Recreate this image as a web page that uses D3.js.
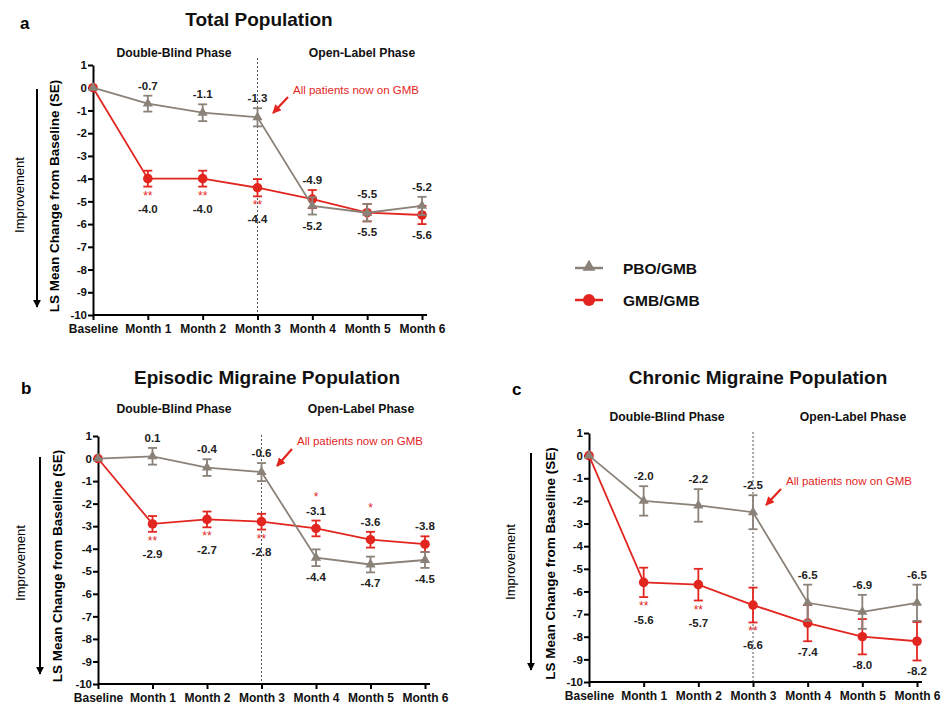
<!DOCTYPE html>
<html><head><meta charset="utf-8">
<script src="https://cdn.jsdelivr.net/npm/d3@7"></script>
<style>
body{margin:0;background:#fff;}
svg{display:block;font-family:"Liberation Sans",Arial,sans-serif;}
</style></head>
<body><svg id="chart" width="945" height="707"></svg>
<script>
const categories = ["Baseline","Month 1","Month 2","Month 3","Month 4","Month 5","Month 6"];
const yTicks = [1,0,-1,-2,-3,-4,-5,-6,-7,-8,-9,-10];
const seriesNames = ["PBO/GMB","GMB/GMB"];

// Panel a: Total Population
const totalPBO    = [0,-0.7,-1.1,-1.3,-5.2,-5.5,-5.2];
const totalPBOse  = [0,0.35,0.37,0.4,0.38,0.38,0.4];
const totalGMB    = [0,-4.0,-4.0,-4.4,-4.9,-5.5,-5.6];
const totalGMBse  = [0,0.35,0.35,0.38,0.4,0.38,0.4];
const totalSig    = ["","**","**","**","","",""];

// Panel b: Episodic Migraine Population
const episodicPBO   = [0,0.1,-0.4,-0.6,-4.4,-4.7,-4.5];
const episodicPBOse = [0,0.37,0.37,0.4,0.37,0.35,0.35];
const episodicGMB   = [0,-2.9,-2.7,-2.8,-3.1,-3.6,-3.8];
const episodicGMBse = [0,0.35,0.35,0.35,0.35,0.35,0.35];
const episodicSig   = ["","**","**","**","*","*",""];

// Panel c: Chronic Migraine Population
const chronicPBO   = [0,-2.0,-2.2,-2.5,-6.5,-6.9,-6.5];
const chronicPBOse = [0,0.65,0.72,0.75,0.8,0.75,0.8];
const chronicGMB   = [0,-5.6,-5.7,-6.6,-7.4,-8.0,-8.2];
const chronicGMBse = [0,0.65,0.7,0.77,0.8,0.78,0.85];
const chronicSig   = ["","**","**","**","","",""];

const GREY = "#8a8178", RED = "#e2261f";
const svg = d3.select("#chart");
const defs = svg.append("defs");
function marker(id, color){
  defs.append("marker").attr("id",id).attr("viewBox","0 0 10 10").attr("refX",9).attr("refY",5)
    .attr("markerWidth",4).attr("markerHeight",4).attr("orient","auto")
    .append("path").attr("d","M0,0 L10,5 L0,10 z").attr("fill",color);
}
marker("arrBlack","#000"); marker("arrRed",RED);

function fmt(v){ return (v<0?"-":"") + Math.abs(v).toFixed(1); }

function drawPanel(cfg){
  const g = svg.append("g");
  const x = d3.scalePoint().domain(categories).range([cfg.x0,cfg.x6]);
  const y = d3.scaleLinear().domain([-10,1]).range([cfg.yBot,cfg.yTop]);

  g.append("text").attr("x",cfg.letter[0]).attr("y",cfg.letter[1]).attr("font-size",17).attr("font-weight","bold").text(cfg.letterText);
  g.append("text").attr("x",cfg.title[0]).attr("y",cfg.title[1]).attr("text-anchor","middle").attr("font-size",19).attr("font-weight","bold").attr("fill","#111").text(cfg.titleText);
  g.append("text").attr("x",cfg.db[0]).attr("y",cfg.db[1]).attr("text-anchor","middle").attr("font-size",12.2).attr("font-weight","bold").attr("fill","#111").text("Double-Blind Phase");
  g.append("text").attr("x",cfg.ol[0]).attr("y",cfg.ol[1]).attr("text-anchor","middle").attr("font-size",12.2).attr("font-weight","bold").attr("fill","#111").text("Open-Label Phase");

  g.append("line").attr("x1",x("Month 3")).attr("x2",x("Month 3")).attr("y1",cfg.dashTop).attr("y2",cfg.yBot)
    .attr("stroke","#555").attr("stroke-width",1).attr("stroke-dasharray","2,2");

  const ya = d3.axisLeft(y).tickValues(yTicks).tickSize(5).tickSizeOuter(0).tickFormat(d=>String(d));
  const yg = g.append("g").attr("transform",`translate(${cfg.x0},0)`).call(ya);
  const xa = d3.axisBottom(x).tickSize(5).tickSizeOuter(0);
  const xg = g.append("g").attr("transform",`translate(0,${cfg.yBot})`).call(xa);
  xg.select(".domain").attr("d",`M${cfg.x0},0H${cfg.x6+5}`);
  [yg,xg].forEach(a=>{
    a.select(".domain").attr("stroke","#000").attr("stroke-width",2);
    a.selectAll(".tick line").attr("stroke","#000").attr("stroke-width",2);
    a.selectAll(".tick text").attr("fill","#111").attr("font-weight","bold").attr("font-family","Liberation Sans, Arial, sans-serif");
  });
  yg.selectAll(".tick text").attr("font-size",11.5).attr("x",-6);
  xg.selectAll(".tick text").attr("font-size",12).attr("y",9);

  g.append("line").attr("x1",cfg.impX).attr("x2",cfg.impX).attr("y1",cfg.impY0).attr("y2",cfg.impY1)
    .attr("stroke","#000").attr("stroke-width",2).attr("marker-end","url(#arrBlack)");
  g.append("text").attr("transform",`translate(${cfg.impTextX},${cfg.impTextY}) rotate(-90)`).attr("text-anchor","middle")
    .attr("font-size",13).text("Improvement");
  g.append("text").attr("transform",`translate(${cfg.ylabX},${(cfg.yTop+cfg.yBot)/2+6}) rotate(-90)`).attr("text-anchor","middle")
    .attr("font-size",13.5).attr("font-weight","bold").text("LS Mean Change from Baseline (SE)");

  g.append("text").attr("x",cfg.note[0]).attr("y",cfg.note[1]).attr("font-size",11.5).attr("fill",RED).text("All patients now on GMB");
  g.append("line").attr("x1",cfg.arrow[0]).attr("y1",cfg.arrow[1]).attr("x2",cfg.arrow[2]).attr("y2",cfg.arrow[3])
    .attr("stroke",RED).attr("stroke-width",2.2).attr("marker-end","url(#arrRed)");

  const series = [
    {vals:cfg.gmb, se:cfg.gmbse, color:RED, shape:"circle"},
    {vals:cfg.pbo, se:cfg.pbose, color:GREY, shape:"tri"}
  ];
  const line = d3.line().x((d,i)=>x(categories[i])).y(d=>y(d));
  series.forEach(s=>{
    const sg = g.append("g");
    sg.append("path").attr("d",line(s.vals)).attr("fill","none").attr("stroke",s.color).attr("stroke-width",1.8);
    s.vals.forEach((v,i)=>{
      if(i===0) return;
      const cx = x(categories[i]);
      const t = y(v+s.se[i]), b = y(v-s.se[i]);
      sg.append("line").attr("x1",cx).attr("x2",cx).attr("y1",t).attr("y2",b).attr("stroke",s.color).attr("stroke-width",1.8);
      sg.append("line").attr("x1",cx-4.5).attr("x2",cx+4.5).attr("y1",t).attr("y2",t).attr("stroke",s.color).attr("stroke-width",1.8);
      sg.append("line").attr("x1",cx-4.5).attr("x2",cx+4.5).attr("y1",b).attr("y2",b).attr("stroke",s.color).attr("stroke-width",1.8);
    });
    s.vals.forEach((v,i)=>{
      const cx = x(categories[i]), cy = y(v);
      if(s.shape==="circle") sg.append("circle").attr("cx",cx).attr("cy",cy).attr("r",4.8).attr("fill",s.color);
      else sg.append("path").attr("transform",`translate(${cx},${cy})`).attr("d",d3.symbol(d3.symbolTriangle,45)()).attr("fill",s.color);
    });
  });

  categories.forEach((c,i)=>{
    if(i===0) return;
    const cx = x(c);
    const pboHigh = cfg.pbo[i] >= cfg.gmb[i];
    const hi = pboHigh ? {v:cfg.pbo[i],se:cfg.pbose[i],gmb:false} : {v:cfg.gmb[i],se:cfg.gmbse[i],gmb:true};
    const lo = pboHigh ? {v:cfg.gmb[i],se:cfg.gmbse[i],gmb:true} : {v:cfg.pbo[i],se:cfg.pbose[i],gmb:false};
    const sig = cfg.sig[i];
    const topY = y(hi.v+hi.se);
    g.append("text").attr("x",cx).attr("y",topY-6).attr("text-anchor","middle").attr("font-size",11.5).attr("font-weight","bold").attr("fill","#222").text(fmt(hi.v));
    if(hi.gmb && sig) g.append("text").attr("x",cx).attr("y",topY-19.5).attr("text-anchor","middle").attr("font-size",12).attr("fill",RED).text(sig);
    const botY = y(lo.v-lo.se);
    if(lo.gmb && sig){
      g.append("text").attr("x",cx).attr("y",botY+13).attr("text-anchor","middle").attr("font-size",12).attr("fill",RED).text(sig);
      g.append("text").attr("x",cx).attr("y",botY+26.5).attr("text-anchor","middle").attr("font-size",11.5).attr("font-weight","bold").attr("fill","#222").text(fmt(lo.v));
    } else {
      g.append("text").attr("x",cx).attr("y",botY+15).attr("text-anchor","middle").attr("font-size",11.5).attr("font-weight","bold").attr("fill","#222").text(fmt(lo.v));
    }
  });
}

drawPanel({letterText:"a", letter:[20,29], titleText:"Total Population", title:[259,26], db:[174,57], ol:[362,57],
  x0:93, x6:422, yTop:65, yBot:315, dashTop:58, impX:37, impY0:89, impY1:307, impTextX:24, impTextY:195, ylabX:59,
  note:[293,94], arrow:[288,97,273,113],
  pbo:totalPBO, pbose:totalPBOse, gmb:totalGMB, gmbse:totalGMBse, sig:totalSig});

drawPanel({letterText:"b", letter:[21,394], titleText:"Episodic Migraine Population", title:[267,384], db:[174,413], ol:[361,413],
  x0:98, x6:425, yTop:436, yBot:684, dashTop:435, impX:40, impY0:457, impY1:674, impTextX:25, impTextY:563, ylabX:62,
  note:[297,445], arrow:[292,449,277,466],
  pbo:episodicPBO, pbose:episodicPBOse, gmb:episodicGMB, gmbse:episodicGMBse, sig:episodicSig});

drawPanel({letterText:"c", letter:[512,395], titleText:"Chronic Migraine Population", title:[758,384], db:[667,421], ol:[853,421],
  x0:589, x6:917, yTop:433, yBot:682, dashTop:432, impX:531, impY0:453, impY1:670, impTextX:515, impTextY:562, ylabX:555,
  note:[786,485], arrow:[781,489,766,505],
  pbo:chronicPBO, pbose:chronicPBOse, gmb:chronicGMB, gmbse:chronicGMBse, sig:chronicSig});

const leg = svg.append("g");
[[seriesNames[0],GREY,"tri",268],[seriesNames[1],RED,"circle",300]].forEach(([name,color,shape,ly])=>{
  leg.append("line").attr("x1",575).attr("x2",603).attr("y1",ly).attr("y2",ly).attr("stroke",color).attr("stroke-width",2.5);
  if(shape==="circle") leg.append("circle").attr("cx",589).attr("cy",ly).attr("r",6).attr("fill",color);
  else leg.append("path").attr("transform",`translate(589,${ly-1})`).attr("d",d3.symbol(d3.symbolTriangle,70)()).attr("fill",color);
  leg.append("text").attr("x",623).attr("y",ly+5.5).attr("font-size",15.5).attr("font-weight","bold").attr("fill","#111").text(name);
});
</script></body></html>
